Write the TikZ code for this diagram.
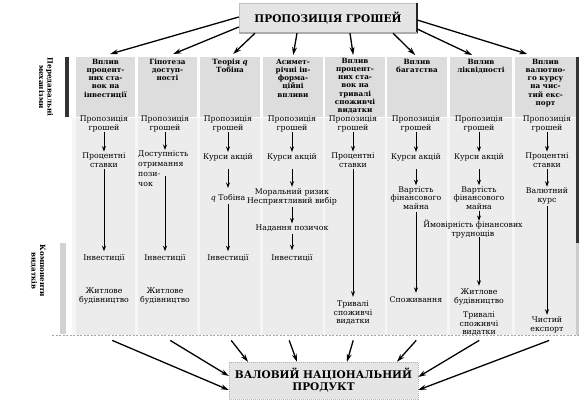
\documentclass[tikz,border=0pt]{standalone}
\usepackage{fontspec}
\setmainfont{DejaVu Serif}
\usetikzlibrary{arrows.meta}
\begin{document}
\begin{tikzpicture}[x=1pt,y=-1pt,
  txt/.style={font=\fontsize{7.8}{8.6}\selectfont, align=center, inner sep=0pt},
  hdr/.style={font=\bfseries\fontsize{7.2}{8.15}\selectfont, align=center, inner sep=0pt, anchor=north},
  side/.style={font=\bfseries\fontsize{7.2}{8.5}\selectfont, align=center, inner sep=0pt, rotate=-90},
  arr/.style={-{Stealth[length=5.5pt,width=4pt]}, line width=1pt, shorten >=1pt},
  bigarr/.style={-{Stealth[length=8pt,width=5pt]}, line width=1.3pt},
  bodycol/.style={fill=gray!15, draw=none, inner sep=0pt, anchor=north west, minimum height=217},
  hcell/.style={fill=gray!27, draw=none, inner sep=0pt, anchor=north west, minimum height=60},
  bigbox/.style={fill=gray!20, inner sep=0pt, font=\bfseries\fontsize{10.5}{12}\selectfont, align=center},
]
\useasboundingbox (0,0) rectangle (587,407);
% body background
\fill[gray!7] (72,118) rectangle (577,335);
% header cells
\node[hcell, minimum width=59] (h1) at (76,57) {};
\node[hcell, minimum width=59] (h2) at (138,57) {};
\node[hcell, minimum width=60] (h3) at (200,57) {};
\node[hcell, minimum width=60] (h4) at (263,57) {};
\node[hcell, minimum width=60] (h5) at (325,57) {};
\node[hcell, minimum width=60] (h6) at (387,57) {};
\node[hcell, minimum width=62] (h7) at (450,57) {};
\node[hcell, minimum width=61] (h8) at (515,57) {};
% body columns
\node[bodycol, minimum width=59] (b1) at (76,118) {};
\node[bodycol, minimum width=59] (b2) at (138,118) {};
\node[bodycol, minimum width=60] (b3) at (200,118) {};
\node[bodycol, minimum width=60] (b4) at (263,118) {};
\node[bodycol, minimum width=60] (b5) at (325,118) {};
\node[bodycol, minimum width=60] (b6) at (387,118) {};
\node[bodycol, minimum width=62] (b7) at (450,118) {};
\node[bodycol, minimum width=61] (b8) at (515,118) {};
% edges and bars
\fill[black!80] (576,57) rectangle (579,243);
\fill[gray!40] (576,243) rectangle (579,335);
\fill[black!80] (65,57) rectangle (69,117);
\fill[gray!35] (60,243) rectangle (66,334);
\draw[gray!70, dash pattern=on 2pt off 1.5pt, line width=0.8pt] (52,335) -- (579,335);
% side labels
\node[side] (lab1) at (46,87) {Передавальні\\механізми};
\node[side] (lab2) at (38,271) {Компоненти\\видатків};
% header texts
\node[hdr] (ht1) at (105.5,59) {Вплив\\процент-\\них ста-\\вок на\\інвестиції};
\node[hdr] (ht2) at (167.5,59) {Гіпотеза\\доступ-\\ності};
\node[hdr] (ht3) at (230,59) {Теорія \textit{q}\\Тобіна};
\node[hdr] (ht4) at (293,59) {Асимет-\\річні ін-\\форма-\\ційні\\впливи};
\node[hdr] (ht5) at (355,58) {Вплив\\процент-\\них ста-\\вок на\\тривалі\\споживчі\\видатки};
\node[hdr] (ht6) at (417,59) {Вплив\\багатства};
\node[hdr] (ht7) at (481,59) {Вплив\\ліквідності};
\node[hdr] (ht8) at (545.5,59) {Вплив\\валютно-\\го курсу\\на чис-\\тий екс-\\порт};
% top and bottom boxes
\node[bigbox, minimum width=178, minimum height=30, draw=gray!50] (top) at (328,18) {ПРОПОЗИЦІЯ ГРОШЕЙ};
\draw[black!85, line width=2pt] (top.north east) -- (top.south east);
\draw[gray!65, line width=1.5pt] (top.south west) -- (top.south east);
\node[bigbox, minimum width=189, minimum height=37, draw=gray!60, dash pattern=on 1pt off 1pt] (gnp) at (323.5,380.5) {ВАЛОВИЙ НАЦІОНАЛЬНИЙ\\ПРОДУКТ};
% top arrows
\draw[bigarr] ([yshift=1pt]top.west) -- ([xshift=4.5pt,yshift=3pt]h1.north);
\draw[bigarr] ([yshift=-9pt]top.west) -- ([xshift=5.5pt,yshift=3pt]h2.north);
\draw[bigarr] ([xshift=-73pt]top.south) -- ([xshift=3pt,yshift=3pt]h3.north);
\draw[bigarr] ([xshift=-31pt]top.south) -- ([yshift=2pt]h4.north);
\draw[bigarr] ([xshift=22pt]top.south) -- ([xshift=-2pt,yshift=2pt]h5.north);
\draw[bigarr] ([xshift=65pt]top.south) -- ([xshift=-2pt,yshift=2pt]h6.north);
\draw[bigarr] ([yshift=-11pt]top.east) -- ([xshift=-9pt,yshift=2pt]h7.north);
\draw[bigarr] ([yshift=-2pt]top.east) -- ([xshift=-18.5pt,yshift=3pt]h8.north);
% bottom arrows
\draw[bigarr] ([xshift=6.5pt,yshift=-5pt]b1.south) -- ([yshift=-9.5pt]gnp.west);
\draw[bigarr] ([xshift=2.5pt,yshift=-5pt]b2.south) -- ([yshift=4.5pt]gnp.west);
\draw[bigarr] ([xshift=1pt,yshift=-5pt]b3.south) -- ([xshift=-75.5pt]gnp.north);
\draw[bigarr] ([xshift=-4pt,yshift=-5pt]b4.south) -- ([xshift=-26.5pt]gnp.north);
\draw[bigarr] ([xshift=-2pt,yshift=-5pt]b5.south) -- ([xshift=23.5pt]gnp.north);
\draw[bigarr] ([xshift=-1pt,yshift=-5pt]b6.south) -- ([xshift=73.5pt]gnp.north);
\draw[bigarr] ([xshift=-2pt,yshift=-5pt]b7.south) -- ([yshift=3.5pt]gnp.east);
\draw[bigarr] ([xshift=3.5pt,yshift=-5pt]b8.south) -- ([yshift=-9.5pt]gnp.east);
% column 1
\node[txt] (p1) at (104,124) {Пропозиція\\грошей};
\node[txt] (r1) at (104,160) {Процентні\\ставки};
\node[txt] (i1) at (104,258) {Інвестиції};
\node[txt] (zh1) at (104,296) {Житлове\\будівництво};
\draw[arr] (p1) -- (r1);
\draw[arr, shorten <=1.5pt, shorten >=3pt] (r1) -- (i1);
% column 2
\node[txt] (p2) at (165,124) {Пропозиція\\грошей};
\node[txt, align=left, anchor=north west, font=\fontsize{7.8}{9.8}\selectfont] (d2) at (138,151) {Доступність\\отримання\\пози-\\чок};
\coordinate (d2s) at (165,176);
\node[txt] (i2) at (165,258) {Інвестиції};
\node[txt] (zh2) at (165,296) {Житлове\\будівництво};
\draw[arr] (p2.south) -- (p2.south |- d2.north);
\draw[arr, shorten >=3pt] (d2s) -- (i2);
% column 3
\node[txt] (p3) at (228,124) {Пропозиція\\грошей};
\node[txt] (k3) at (228,157) {Курси акцій};
\node[txt] (q3) at (228,198) {\textit{q} Тобіна};
\node[txt] (i3) at (228,258) {Інвестиції};
\draw[arr] (p3) -- (k3);
\draw[arr, shorten <=8pt, shorten >=6pt] (k3) -- (q3);
\draw[arr, shorten <=2pt, shorten >=3pt] (q3) -- (i3);
% column 4
\node[txt] (p4) at (292,124) {Пропозиція\\грошей};
\node[txt] (k4) at (292,157) {Курси акцій};
\node[txt] (m4) at (292,197) {Моральний ризик\\Несприятливий вибір};
\node[txt] (n4) at (292,228) {Надання позичок};
\node[txt] (i4) at (292,258) {Інвестиції};
\draw[arr] (p4) -- (k4);
\draw[arr, shorten <=8pt, shorten >=2pt] (k4) -- (m4);
\draw[arr, shorten <=2pt] (m4) -- (n4);
\draw[arr, shorten <=2pt, shorten >=4pt] (n4) -- (i4);
% column 5
\node[txt] (p5) at (353,124) {Пропозиція\\грошей};
\node[txt] (r5) at (353,160) {Процентні\\ставки};
\node[txt] (t5) at (353,313) {Тривалі\\споживчі\\видатки};
\draw[arr] (p5) -- (r5);
\draw[arr, shorten <=1.5pt, shorten >=4pt] (r5) -- (t5);
% column 6
\node[txt] (p6) at (416,124) {Пропозиція\\грошей};
\node[txt] (k6) at (416,157) {Курси акцій};
\node[txt] (v6) at (416,198) {Вартість\\фінансового\\майна};
\node[txt] (s6) at (416,300) {Споживання};
\draw[arr] (p6) -- (k6);
\draw[arr, shorten <=8pt, shorten >=1pt] (k6) -- (v6);
\draw[arr, shorten <=2pt, shorten >=4pt] (v6) -- (s6);
% column 7
\node[txt] (p7) at (479,124) {Пропозиція\\грошей};
\node[txt] (k7) at (479,157) {Курси акцій};
\node[txt] (v7) at (479,198) {Вартість\\фінансового\\майна};
\node[txt] (y7) at (473,229) {Ймовірність фінансових\\труднощів};
\node[txt] (zh7) at (479,297) {Житлове\\будівництво};
\node[txt] (t7) at (479,324) {Тривалі\\споживчі\\видатки};
\draw[arr] (p7) -- (k7);
\draw[arr, shorten <=8pt, shorten >=1pt] (k7) -- (v7);
\draw[arr, shorten <=1pt, shorten >=-1pt] (v7.south) -- (v7.south |- y7.north);
\draw[arr, shorten <=-1pt, shorten >=3pt] (v7.south |- y7.south) -- (zh7.north);
% column 8
\node[txt] (p8) at (547,124) {Пропозиція\\грошей};
\node[txt] (r8) at (547,160) {Процентні\\ставки};
\node[txt] (b8t) at (547,196) {Валютний\\курс};
\node[txt] (ch8) at (547,325) {Чистий\\експорт};
\draw[arr] (p8) -- (r8);
\draw[arr, shorten <=1.5pt] (r8) -- (b8t);
\draw[arr, shorten <=2pt, shorten >=2pt] (b8t) -- (ch8);
\end{tikzpicture}
\end{document}
